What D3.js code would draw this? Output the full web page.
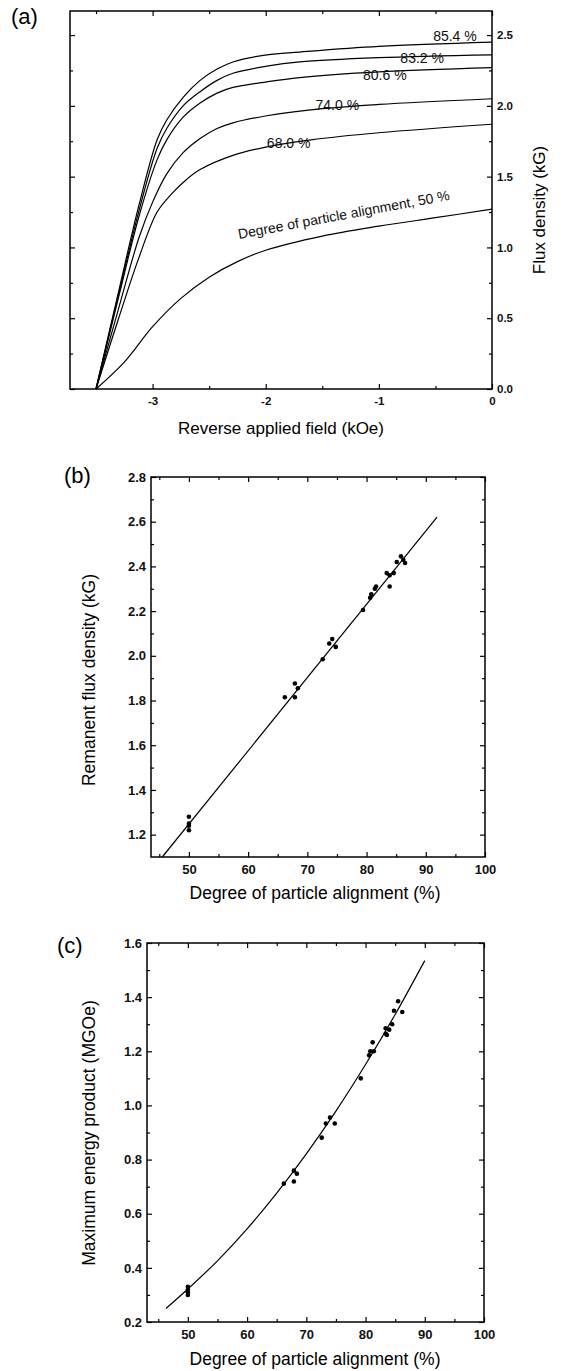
<!DOCTYPE html>
<meta charset="utf-8">
<style>
    body { margin: 0; background: #fff; }
    svg { font-family: "Liberation Sans", Arial, sans-serif; }
    .frame { fill: none; stroke: #000; stroke-width: 1.5px; }
    .axis path { display: none; }
    .axis line { stroke: #000; stroke-width: 1.2px; }
    .axis text { font-size: 13px; font-weight: bold; fill: #111; }
    .pa .axis text { font-size: 11.5px; }
    .curve { fill: none; stroke: #000; stroke-width: 1.2px; }
    .lbl { font-size: 14px; fill: #111; }
    .title { font-size: 17.5px; fill: #000; }
    .pa .title { font-size: 17px; }
    .panel { font-size: 22px; fill: #000; }
</style>
<svg width="564" height="1371"></svg>
<script src="https://d3js.org/d3.v7.min.js"></script>
<script>

    // (a) demagnetization curves: [field kOe, flux density kG]
    var curve854 = [[-3.5, 0], [-3.3, 0.69], [-3.12, 1.3], [-2.96, 1.76], [-2.875, 1.9], [-2.73, 2.06], [-2.58, 2.18], [-2.43, 2.26], [-2.29, 2.31], [-1.99, 2.36], [-1.7, 2.38], [-1.0, 2.42], [0, 2.45]];
    var curve832 = [[-3.5, 0], [-3.3, 0.67], [-3.12, 1.26], [-2.96, 1.7], [-2.875, 1.84], [-2.73, 2.0], [-2.58, 2.1], [-2.43, 2.18], [-2.29, 2.23], [-1.99, 2.28], [-1.7, 2.31], [-1.0, 2.34], [0, 2.36]];
    var curve806 = [[-3.5, 0], [-3.3, 0.65], [-3.12, 1.22], [-2.96, 1.62], [-2.875, 1.76], [-2.73, 1.92], [-2.58, 2.02], [-2.43, 2.09], [-2.29, 2.13], [-1.99, 2.17], [-1.7, 2.2], [-1.0, 2.24], [0, 2.27]];
    var curve740 = [[-3.5, 0], [-3.3, 0.57], [-3.12, 1.07], [-3.0, 1.32], [-2.875, 1.52], [-2.73, 1.67], [-2.58, 1.77], [-2.43, 1.84], [-2.29, 1.88], [-1.99, 1.93], [-1.5, 1.98], [-1.0, 2.01], [0, 2.05]];
    var curve680 = [[-3.5, 0], [-3.3, 0.5], [-3.12, 0.93], [-2.96, 1.25], [-2.83, 1.38], [-2.7, 1.48], [-2.58, 1.55], [-2.29, 1.65], [-1.99, 1.71], [-1.6, 1.76], [-1.0, 1.81], [0, 1.87]];
    var curve500 = [[-3.5, 0], [-3.25, 0.19], [-3.0, 0.44], [-2.75, 0.64], [-2.5, 0.79], [-2.25, 0.9], [-2.0, 0.98], [-1.5, 1.08], [-1.0, 1.15], [-0.5, 1.21], [0, 1.27]];
    var curveLabels = ["85.4 %", "83.2 %", "80.6 %", "74.0 %", "68.0 %"];

    // (b) remanent flux density vs alignment
    var alignB = [50, 50, 50, 50, 66.2, 67.9, 67.9, 68.4, 72.6, 73.7, 74.2, 74.8, 79.4, 80.6, 80.8, 81.4, 81.6, 83.4, 83.9, 84.6, 83.9, 85.1, 85.8, 86.2, 86.5];
    var remanence = [1.28, 1.25, 1.24, 1.22, 1.815, 1.876, 1.815, 1.855, 1.985, 2.055, 2.075, 2.04, 2.205, 2.26, 2.275, 2.30, 2.31, 2.37, 2.36, 2.37, 2.31, 2.42, 2.445, 2.43, 2.415];
    var fitB = [[45.5, 1.1], [91.9, 2.62]];

    // (c) max energy product vs alignment
    var alignC = [50, 50, 50, 50, 66.2, 67.9, 68.4, 67.9, 72.6, 73.3, 74.0, 74.8, 79.2, 80.6, 80.8, 81.4, 81.2, 83.4, 84.0, 83.4, 83.6, 84.5, 84.8, 85.5, 86.2];
    var energy = [0.33, 0.32, 0.31, 0.30, 0.711, 0.759, 0.748, 0.719, 0.881, 0.933, 0.955, 0.933, 1.10, 1.185, 1.20, 1.20, 1.233, 1.285, 1.28, 1.265, 1.26, 1.30, 1.35, 1.385, 1.345];
    var fitC = [[46.3, 0.25], [50, 0.322], [55, 0.426], [60, 0.544], [65, 0.676], [70, 0.821], [75, 0.979], [80, 1.151], [85, 1.336], [90, 1.535]];

    var svg = d3.select("svg");
    var plain = function (d) { return String(d); };

    // frame + inward major/minor ticks on all four sides
    function frame(g, x, y, o) {
        g.append("rect").attr("class", "frame")
            .attr("x", x.range()[0]).attr("y", y.range()[1])
            .attr("width", x.range()[1] - x.range()[0])
            .attr("height", y.range()[0] - y.range()[1]);

        var xb = y.range()[0], yt = y.range()[1], xl = x.range()[0], xr = x.range()[1];

        g.append("g").attr("class", "axis").attr("transform", "translate(0," + xb + ")")
            .call(d3.axisBottom(x).tickValues(o.xMajor).tickSize(-5).tickPadding(8).tickFormat(plain));
        g.append("g").attr("class", "axis").attr("transform", "translate(0," + xb + ")")
            .call(d3.axisBottom(x).tickValues(o.xMinor).tickSize(-3).tickFormat(""));
        g.append("g").attr("class", "axis").attr("transform", "translate(0," + yt + ")")
            .call(d3.axisTop(x).tickValues(o.xMajor).tickSize(-5).tickFormat(""));
        g.append("g").attr("class", "axis").attr("transform", "translate(0," + yt + ")")
            .call(d3.axisTop(x).tickValues(o.xMinor).tickSize(-3).tickFormat(""));

        var labelRight = o.yRight;
        g.append("g").attr("class", "axis").attr("transform", "translate(" + xl + ",0)")
            .call(d3.axisLeft(y).tickValues(o.yMajor).tickSize(-5).tickPadding(5)
                .tickFormat(labelRight ? "" : d3.format(".1f")));
        g.append("g").attr("class", "axis").attr("transform", "translate(" + xl + ",0)")
            .call(d3.axisLeft(y).tickValues(o.yMinor).tickSize(-3).tickFormat(""));
        g.append("g").attr("class", "axis").attr("transform", "translate(" + xr + ",0)")
            .call(d3.axisRight(y).tickValues(o.yMajor).tickSize(-5).tickPadding(5)
                .tickFormat(labelRight ? d3.format(".1f") : ""));
        g.append("g").attr("class", "axis").attr("transform", "translate(" + xr + ",0)")
            .call(d3.axisRight(y).tickValues(o.yMinor).tickSize(-3).tickFormat(""));
    }

    // ---------- panel (a)
    var xa = d3.scaleLinear().domain([-3.73, 0]).range([70, 492]);
    var ya = d3.scaleLinear().domain([0, 2.67]).range([389, 11]);
    var ga = svg.append("g").attr("class", "pa");

    frame(ga, xa, ya, {
        xMajor: [-3, -2, -1, 0], xMinor: [-3.5, -2.5, -1.5, -0.5],
        yMajor: [0, 0.5, 1.0, 1.5, 2.0, 2.5], yMinor: [0.25, 0.75, 1.25, 1.75, 2.25],
        yRight: true
    });

    var lineA = d3.line().curve(d3.curveCatmullRom.alpha(0.5))
        .x(function (d) { return xa(d[0]); })
        .y(function (d) { return ya(d[1]); });

    [curve854, curve832, curve806, curve740, curve680, curve500].forEach(function (c) {
        ga.append("path").attr("class", "curve").attr("d", lineA(c));
    });

    // curve labels (data coords of text baseline start)
    var labelPos = [[-0.52, 2.46], [-0.81, 2.30], [-1.14, 2.18], [-1.56, 1.97], [-1.99, 1.70]];
    curveLabels.forEach(function (t, i) {
        ga.append("text").attr("class", "lbl")
            .attr("x", xa(labelPos[i][0])).attr("y", ya(labelPos[i][1]))
            .text(t);
    });
    ga.append("text").attr("class", "lbl")
        .attr("transform", "translate(" + xa(-2.236) + "," + ya(1.06) + ") rotate(-10.5)")
        .text("Degree of particle alignment, 50 %");

    ga.append("text").attr("class", "title").attr("text-anchor", "middle")
        .attr("x", 281).attr("y", 434).text("Reverse applied field (kOe)");
    ga.append("text").attr("class", "title").attr("text-anchor", "middle")
        .attr("transform", "translate(545,210) rotate(-90)").text("Flux density (kG)");
    ga.append("text").attr("class", "panel").attr("x", 11).attr("y", 24).text("(a)");

    // ---------- panel (b)
    var xb = d3.scaleLinear().domain([43.6, 100]).range([151, 485]);
    var yb = d3.scaleLinear().domain([1.1, 2.8]).range([857, 477]);
    var gb = svg.append("g");

    frame(gb, xb, yb, {
        xMajor: [50, 60, 70, 80, 90, 100], xMinor: [45, 55, 65, 75, 85, 95],
        yMajor: [1.2, 1.4, 1.6, 1.8, 2.0, 2.2, 2.4, 2.6, 2.8],
        yMinor: [1.3, 1.5, 1.7, 1.9, 2.1, 2.3, 2.5, 2.7]
    });

    gb.append("path").attr("class", "curve")
        .attr("d", d3.line().x(function (d) { return xb(d[0]); }).y(function (d) { return yb(d[1]); })(fitB));

    gb.selectAll(".dot").data(alignB).enter().append("circle")
        .attr("cx", function (d) { return xb(d); })
        .attr("cy", function (d, i) { return yb(remanence[i]); })
        .attr("r", 2.3);

    gb.append("text").attr("class", "title").attr("text-anchor", "middle")
        .attr("x", 315).attr("y", 899).text("Degree of particle alignment (%)");
    gb.append("text").attr("class", "title").attr("text-anchor", "middle")
        .attr("transform", "translate(95,680) rotate(-90)").text("Remanent flux density (kG)");
    gb.append("text").attr("class", "panel").attr("x", 64).attr("y", 483).text("(b)");

    // ---------- panel (c)
    var xc = d3.scaleLinear().domain([43.1, 100]).range([147, 484]);
    var yc = d3.scaleLinear().domain([0.2, 1.6]).range([1322, 943]);
    var gc = svg.append("g");

    frame(gc, xc, yc, {
        xMajor: [50, 60, 70, 80, 90, 100], xMinor: [45, 55, 65, 75, 85, 95],
        yMajor: [0.2, 0.4, 0.6, 0.8, 1.0, 1.2, 1.4, 1.6],
        yMinor: [0.3, 0.5, 0.7, 0.9, 1.1, 1.3, 1.5]
    });

    gc.append("path").attr("class", "curve")
        .attr("d", d3.line().curve(d3.curveCatmullRom.alpha(0.5))
            .x(function (d) { return xc(d[0]); }).y(function (d) { return yc(d[1]); })(fitC));

    gc.selectAll(".dot").data(alignC).enter().append("circle")
        .attr("cx", function (d) { return xc(d); })
        .attr("cy", function (d, i) { return yc(energy[i]); })
        .attr("r", 2.3);

    gc.append("text").attr("class", "title").attr("text-anchor", "middle")
        .attr("x", 315).attr("y", 1365).text("Degree of particle alignment (%)");
    gc.append("text").attr("class", "title").attr("text-anchor", "middle")
        .attr("transform", "translate(95,1133) rotate(-90)").text("Maximum energy product (MGOe)");
    gc.append("text").attr("class", "panel").attr("x", 57).attr("y", 953).text("(c)");

</script>
